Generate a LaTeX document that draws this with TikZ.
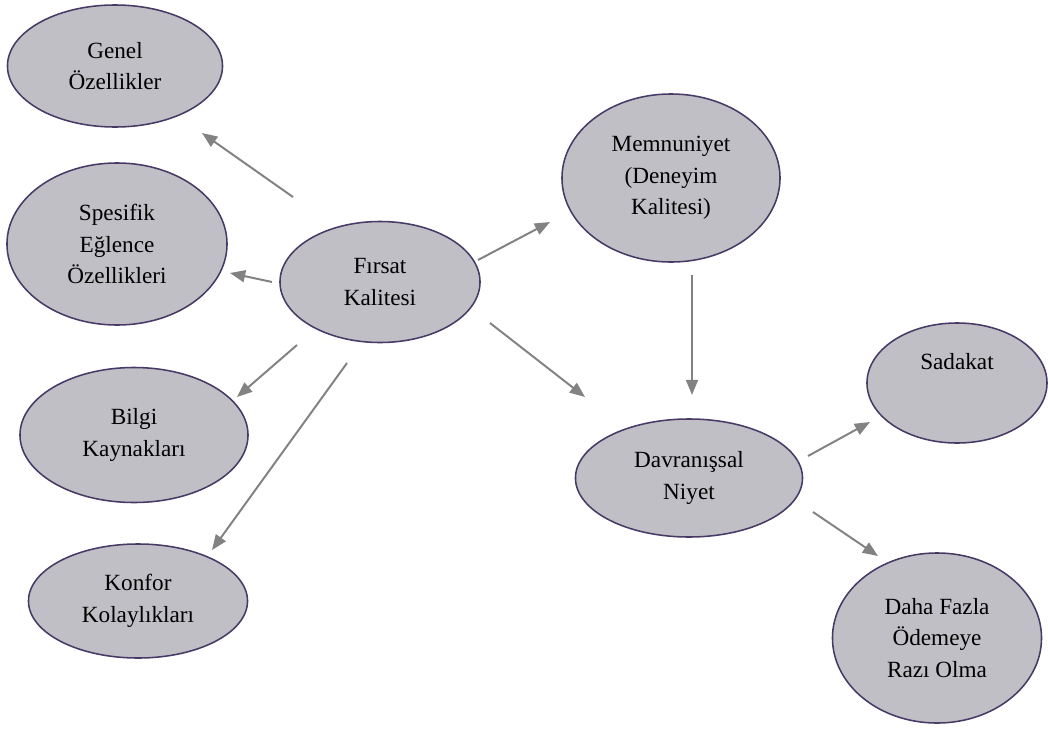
\documentclass[tikz,border=0pt]{standalone}
\usepackage{fontspec}
\setmainfont{Liberation Serif}
\usetikzlibrary{arrows.meta,shapes.geometric}
\definecolor{ovalfill}{RGB}{192,191,197}
\definecolor{ovaledge}{RGB}{72,58,102}
\definecolor{arrowgray}{RGB}{130,130,130}
\begin{document}
\begin{tikzpicture}[x=0.025cm,y=-0.025cm,font=\fontsize{16.5}{22.5}\selectfont,>={Triangle[length=0.38cm,width=0.3cm]},
  oval/.style={ellipse,draw=ovaledge,line width=1.1pt,fill=ovalfill,align=center,inner sep=0pt},
  arr/.style={->,draw=arrowgray,line width=1.4pt}]
\useasboundingbox (0,0) rectangle (1048,731);
% left side
\node[oval,minimum width=5.375cm,minimum height=3.05cm] (go) at (115,66) {Genel\\Özellikler};
\node[oval,minimum width=5.5cm,minimum height=4.05cm] (sp) at (117,244) {Spesifik\\Eğlence\\Özellikleri};
\node[oval,minimum width=5.7cm,minimum height=3.375cm] (bk) at (134,435) {Bilgi\\Kaynakları};
\node[oval,minimum width=5.475cm,minimum height=2.85cm] (kk) at (138,601) {Konfor\\Kolaylıkları};
\node[oval,minimum width=5cm,minimum height=3.025cm] (fk) at (380,282) {Fırsat\\Kalitesi};
% right side
\node[oval,minimum width=5.45cm,minimum height=4.2cm] (mn) at (671,178) {Memnuniyet\\(Deneyim\\Kalitesi)};
\node[oval,minimum width=5.675cm,minimum height=2.95cm] (dn) at (689,478) {Davranışsal\\Niyet};
\node[oval,minimum width=4.5cm,minimum height=3cm,text depth=1.1cm] (sd) at (957,383) {Sadakat};
\node[oval,minimum width=5.225cm,minimum height=4.25cm] (dfo) at (937,638) {Daha Fazla\\Ödemeye\\Razı Olma};
% arrow ends
\coordinate (fk-go) at (293,197); \coordinate (go-in) at (202,133);
\coordinate (fk-sp) at (272,282); \coordinate (sp-in) at (230,273);
\coordinate (fk-bk) at (297,345); \coordinate (bk-in) at (237,397);
\coordinate (fk-kk) at (347,363); \coordinate (kk-in) at (212,550);
\coordinate (fk-mn) at (478,260); \coordinate (mn-in) at (550,222);
\coordinate (fk-dn) at (490,323); \coordinate (dn-in1) at (585,397);
\coordinate (mn-dn) at (692,275); \coordinate (dn-in2) at (692,395);
\coordinate (dn-sd) at (808,456); \coordinate (sd-in) at (870,422);
\coordinate (dn-dfo) at (813,512); \coordinate (dfo-in) at (878,556);
\draw[arr] (fk-go) -- (go-in);
\draw[arr] (fk-sp) -- (sp-in);
\draw[arr] (fk-bk) -- (bk-in);
\draw[arr] (fk-kk) -- (kk-in);
\draw[arr] (fk-mn) -- (mn-in);
\draw[arr] (fk-dn) -- (dn-in1);
\draw[arr] (mn-dn) -- (dn-in2);
\draw[arr] (dn-sd) -- (sd-in);
\draw[arr] (dn-dfo) -- (dfo-in);
\end{tikzpicture}
\end{document}
